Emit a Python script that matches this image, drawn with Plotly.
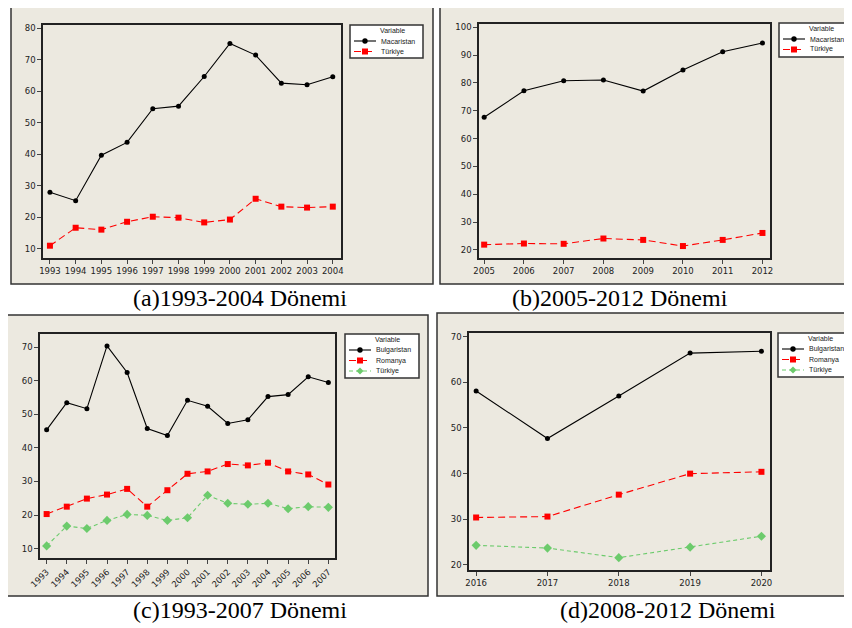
import plotly.graph_objects as go

# the page body adds an 8px margin, so the figure is sized to fit the window
OFF = 8
W, H = 852 - OFF, 628 - OFF

# ---- data ----
years_a = [1993, 1994, 1995, 1996, 1997, 1998, 1999, 2000, 2001, 2002, 2003, 2004]
macaristan_a = [28.0, 25.3, 39.7, 43.8, 54.5, 55.3, 64.7, 75.2, 71.5, 62.6, 62.1, 64.6]
turkiye_a = [11.0, 16.7, 16.1, 18.6, 20.2, 19.9, 18.4, 19.3, 25.9, 23.4, 23.1, 23.4]

years_b = [2005, 2006, 2007, 2008, 2009, 2010, 2011, 2012]
macaristan_b = [67.7, 77.2, 80.8, 81.1, 77.1, 84.7, 91.2, 94.4]
turkiye_b = [21.9, 22.3, 22.2, 24.1, 23.6, 21.4, 23.6, 26.1]

years_c = list(range(1993, 2008))
bulgaristan_c = [45.4, 53.5, 51.7, 70.4, 62.5, 45.8, 43.7, 54.2, 52.4, 47.3, 48.4, 55.3, 55.9, 61.2, 59.5]
romanya_c = [20.3, 22.5, 24.9, 26.1, 27.8, 22.5, 27.4, 32.3, 33.0, 35.2, 34.8, 35.6, 33.0, 32.1, 29.1]
turkiye_c = [10.8, 16.7, 16.0, 18.4, 20.2, 19.9, 18.4, 19.2, 25.9, 23.5, 23.2, 23.5, 21.9, 22.5, 22.3]

years_d = [2016, 2017, 2018, 2019, 2020]
bulgaristan_d = [58.1, 47.7, 57.0, 66.4, 66.8]
romanya_d = [30.4, 30.6, 35.4, 40.0, 40.4]
turkiye_d = [24.3, 23.7, 21.6, 23.9, 26.3]

captions = ["(a)1993-2004 Dönemi", "(b)2005-2012 Dönemi",
            "(c)1993-2007 Dönemi", "(d)2008-2012 Dönemi"]
legend_title = "Variable"

BEIGE = "#ECE9E0"
RED = "#FF0000"
GREEN = "#6CCB6C"


def px(x):
    return (x - OFF) / W


def py(y):
    return 1 - (y - OFF) / H


# series styles: (line, marker)
STYLE = {
    "black": (dict(color="black", width=1.1),
              dict(symbol="circle", size=5, color="black")),
    "red": (dict(color=RED, width=1.1, dash="7px,4px"),
            dict(symbol="square", size=6, color=RED)),
    "green": (dict(color=GREEN, width=1.1, dash="4px,3px"),
              dict(symbol="diamond", size=7, color=GREEN)),
}

panels = [
    ("x", "y", years_a, [("Macaristan", macaristan_a, "black"), ("Türkiye", turkiye_a, "red")]),
    ("x2", "y2", years_b, [("Macaristan", macaristan_b, "black"), ("Türkiye", turkiye_b, "red")]),
    ("x3", "y3", years_c, [("Bulgaristan", bulgaristan_c, "black"), ("Romanya", romanya_c, "red"),
                           ("Türkiye", turkiye_c, "green")]),
    ("x4", "y4", years_d, [("Bulgaristan", bulgaristan_d, "black"), ("Romanya", romanya_d, "red"),
                           ("Türkiye", turkiye_d, "green")]),
]

fig = go.Figure()
for xa, ya, years, series in panels:
    for name, vals, sty in series:
        line, marker = STYLE[sty]
        fig.add_trace(go.Scatter(x=years, y=vals, name=name, mode="lines+markers",
                                 line=line, marker=marker, xaxis=xa, yaxis=ya,
                                 showlegend=False))

tick_font = dict(family="DejaVu Sans", size=8.5, color="#222222")


def xax(dom, rng, anchor, angle=0):
    return dict(domain=[px(dom[0]), px(dom[1])], range=rng, anchor=anchor, dtick=1,
                tickmode="linear", showgrid=False, zeroline=False, showline=True,
                linecolor="#222222", linewidth=1.5, mirror=True, ticks="outside",
                ticklen=4, tickcolor="#444444", tickfont=tick_font, tickangle=angle)


def yax(dom, rng, anchor, dtick=10):
    return dict(domain=[py(dom[1]), py(dom[0])], range=rng, anchor=anchor, dtick=dtick,
                showgrid=False, zeroline=False, showline=True, linecolor="#222222",
                linewidth=1.5, mirror=True, ticks="outside", ticklen=4,
                tickcolor="#444444", tickfont=tick_font)


fig.update_layout(
    width=W, height=H,
    margin=dict(l=0, r=0, t=0, b=0, autoexpand=False),
    paper_bgcolor="white",
    plot_bgcolor="white",
    showlegend=False,
    xaxis=xax((43, 341), [1992.73, 2004.32], "y"),
    yaxis=yax((25, 258), [7.1, 81.05], "x"),
    xaxis2=xax((479, 770), [2004.87, 2012.19], "y2"),
    yaxis2=yax((24, 258), [17.1, 101.2], "x2"),
    xaxis3=xax((40, 335), [1992.67, 2007.33], "y3", angle=-45),
    yaxis3=yax((334, 558), [7.2, 73.96], "x3"),
    xaxis4=xax((469, 770), [2015.9, 2020.12], "y4"),
    yaxis4=yax((333, 570), [18.9, 70.8], "x4"),
)

# beige panel frames
frames = [(11, 4, 433, 284), (440, 3, 855, 284), (7, 315, 428, 596), (437, 313, 855, 596)]
for x0, y0, x1, y1 in frames:
    fig.add_shape(type="rect", xref="paper", yref="paper", x0=px(x0), y0=py(y0),
                  x1=px(x1), y1=py(y1), fillcolor=BEIGE,
                  line=dict(color="#333333", width=1.5), layer="below")

# Minitab-style compact legends drawn as shapes + text
legend_boxes = [(350, 25, 423, 58), (779, 23, 855, 57), (345, 334, 419, 378), (778, 333, 855, 377)]
leg_font = dict(family="Liberation Sans", size=7, color="#222222")
for (bx0, by0, bx1, by1), (_, _, _, series) in zip(legend_boxes, panels):
    fig.add_shape(type="rect", xref="paper", yref="paper", x0=px(bx0), y0=py(by0),
                  x1=px(bx1), y1=py(by1), fillcolor="white",
                  line=dict(color="#333333", width=1.5))
    fig.add_annotation(text=legend_title, xref="paper", yref="paper", x=px(bx0 + 42),
                       y=py(by0 + 5.5), showarrow=False, xanchor="center", yanchor="middle",
                       font=leg_font)
    for i, (name, _, sty) in enumerate(series):
        line, marker = STYLE[sty]
        ry = by0 + 16 + i * 10.5
        fig.add_shape(type="line", xref="paper", yref="paper", x0=px(bx0 + 4), x1=px(bx0 + 26),
                      y0=py(ry), y1=py(ry), line=line)
        mx = bx0 + 15
        if marker["symbol"] == "circle":
            fig.add_shape(type="circle", xref="paper", yref="paper", x0=px(mx - 2.7),
                          x1=px(mx + 2.7), y0=py(ry - 2.7), y1=py(ry + 2.7),
                          fillcolor=marker["color"], line=dict(width=0))
        elif marker["symbol"] == "square":
            fig.add_shape(type="rect", xref="paper", yref="paper", x0=px(mx - 3),
                          x1=px(mx + 3), y0=py(ry - 3), y1=py(ry + 3),
                          fillcolor=marker["color"], line=dict(width=0))
        else:
            path = "M {} {} L {} {} L {} {} L {} {} Z".format(
                px(mx), py(ry - 3.5), px(mx + 3.5), py(ry), px(mx), py(ry + 3.5), px(mx - 3.5), py(ry))
            fig.add_shape(type="path", xref="paper", yref="paper", path=path,
                          fillcolor=marker["color"], line=dict(width=0))
        fig.add_annotation(text=name, xref="paper", yref="paper", x=px(bx0 + 29), y=py(ry),
                           showarrow=False, xanchor="left", yanchor="middle", font=leg_font)

# captions
cap_pos = [(240, 298), (620, 298), (240, 610), (668, 610)]
for text, (cx, cy) in zip(captions, cap_pos):
    fig.add_annotation(text=text, xref="paper", yref="paper", x=px(cx), y=py(cy),
                       showarrow=False, xanchor="center", yanchor="middle",
                       font=dict(family="Liberation Serif", size=24, color="black"))

fig.write_html("out.html")
